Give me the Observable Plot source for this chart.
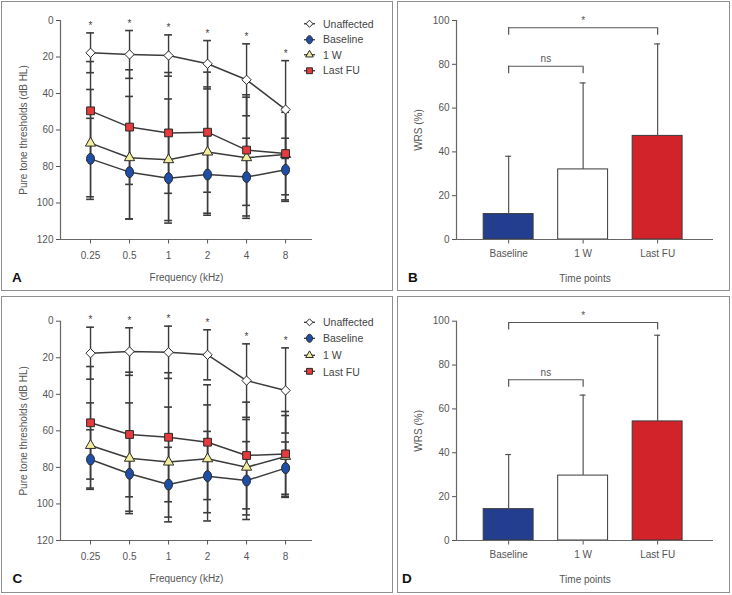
<!DOCTYPE html>
<html>
<head>
<meta charset="utf-8">
<script src="https://cdn.jsdelivr.net/npm/d3@7"></script>
<script src="https://cdn.jsdelivr.net/npm/@observablehq/plot@0.6"></script>
<style>
  body { margin: 0; background: #fff; font-family: "Liberation Sans", Arial, sans-serif; }
  #page { position: relative; width: 732px; height: 595px; overflow: hidden; background: #fff; }
  .box { position: absolute; border: 1.5px solid #8e8e8e; box-sizing: border-box; }
  .plot { position: absolute; }
  .legend { position: absolute; font-size: 10.5px; color: #444; }
  .legend .row { display: flex; align-items: center; white-space: nowrap; }
  .legend svg { flex: none; }
</style>
</head>
<body>
<div id="page"></div>
<script>
// ---------------- DATA ----------------
const freqLabels = ["0.25", "0.5", "1", "2", "4", "8"];
const seriesNames = ["Unaffected", "Baseline", "1 W", "Last FU"];

// Panel A: pure tone thresholds (dB HL), mean and SD
const aUnaffected   = [17.7, 18.6, 19.2, 23.7, 32.5, 48.8];
const aUnaffectedSD = [10.9, 13.1, 11.3, 12.7, 19.7, 26.8];
const aBaseline     = [75.8, 83.1, 86.4, 84.4, 85.8, 81.8];
const aBaselineSD   = [22.2, 25.6, 24.6, 21.2, 21.3, 17.3];
const a1W           = [67.2, 75.2, 76.3, 72.1, 75.2, 73.4];
const a1WSD         = [29.4, 33.6, 33.3, 34.6, 33.2, 24.9];
const aLastFU       = [49.5, 58.4, 61.6, 61.2, 71.0, 72.9];
const aLastFUSD     = [27.0, 31.4, 33.1, 32.9, 30.3, 22.6];

// Panel C: pure tone thresholds (dB HL), mean and SD
const cUnaffected   = [17.5, 16.6, 17.0, 18.4, 32.5, 37.9];
const cUnaffectedSD = [14.2, 13.0, 14.3, 13.7, 20.1, 23.3];
const cBaseline     = [75.7, 83.5, 89.4, 84.8, 87.2, 80.4];
const cBaselineSD   = [16.3, 20.5, 20.4, 24.5, 21.3, 14.3];
const c1W           = [68.0, 75.0, 77.1, 75.3, 79.9, 74.0];
const c1WSD         = [23.3, 30.3, 30.1, 29.5, 26.1, 22.4];
const cLastFU       = [55.6, 62.0, 63.5, 66.2, 73.5, 72.6];
const cLastFUSD     = [30.8, 34.1, 35.3, 31.4, 29.2, 23.2];

// Panels B and D: word recognition score (%)
const timePoints = ["Baseline", "1 W", "Last FU"];
const bWRS   = [11.6, 32.0, 47.3];
const bWRSSD = [26.4, 39.5, 42.0];
const dWRS   = [14.3, 29.6, 54.3];
const dWRSSD = [24.9, 36.7, 39.3];

// significance brackets
const bracketFrom   = [0, 0];
const bracketTo     = [1, 2];
const bracketLabels = ["ns", "*"];
const bBracketY     = [79.1, 96.7];
const dBracketY     = [73.3, 99.4];

// ---------------- STYLE ----------------
const ink = "#3b3b3b";
const axisColor = "#666";
const ellipse = {
  draw(ctx, size) {
    const r = Math.sqrt(size / Math.PI), rx = r * 0.85, ry = r * 1.15, k = 0.5523;
    ctx.moveTo(rx, 0);
    ctx.bezierCurveTo(rx, ry * k, rx * k, ry, 0, ry);
    ctx.bezierCurveTo(-rx * k, ry, -rx, ry * k, -rx, 0);
    ctx.bezierCurveTo(-rx, -ry * k, -rx * k, -ry, 0, -ry);
    ctx.bezierCurveTo(rx * k, -ry, rx, -ry * k, rx, 0);
    ctx.closePath();
  }
};
const seriesStyle = {
  "Unaffected": {symbol: d3.symbolDiamond2, fill: "#ffffff", r: 4.2},
  "Baseline":   {symbol: ellipse,           fill: "#1f4ea6", r: 4.7},
  "1 W":        {symbol: d3.symbolTriangle, fill: "#f2ee9c", r: 3.8},
  "Last FU":    {symbol: d3.symbolSquare,   fill: "#e63a3d", r: 4.4}
};
const barFills = ["#233e8e", "#ffffff", "#d2232a"];
const plotStyle = {fontFamily: "Liberation Sans, Arial, sans-serif", fontSize: "10px", color: "#555", background: "transparent", overflow: "visible"};

const page = document.getElementById("page");
function place(el, left, top) {
  el.classList.add("plot");
  el.style.left = left + "px";
  el.style.top = top + "px";
  page.appendChild(el);
}
function box(left, top, w, h) {
  const d = document.createElement("div");
  d.className = "box";
  Object.assign(d.style, {left: left + "px", top: top + "px", width: w + "px", height: h + "px"});
  page.appendChild(d);
}

box(1, 1, 392, 290);
box(397, 1, 333, 290);
box(1, 296, 392, 297);
box(397, 296, 333, 297);

// ---------------- PTA PANELS (A, C) ----------------
function ptaPanel(means, sds, {height, marginTop, marginBottom}) {
  const rows = seriesNames.flatMap((s, k) => means[k].map((m, i) => ({series: s, i, mean: m, sd: sds[k][i]})));
  const xDomain = [-0.77, 5.69];
  const yDomain = [0, 120];
  return Plot.plot({
    width: 395, height, marginLeft: 60, marginRight: 83, marginTop, marginBottom,
    x: {domain: xDomain},
    y: {domain: yDomain, reverse: true},
    style: plotStyle,
    marks: [
      Plot.ruleY([yDomain[1]], {stroke: axisColor, strokeWidth: 1.2}),
      Plot.ruleX([xDomain[0]], {stroke: axisColor, strokeWidth: 1.2}),
      Plot.axisY({ticks: d3.range(0, 121, 20), tickSize: 4, tickPadding: 3, label: "Pure tone thresholds (dB HL)",
        labelAnchor: "center", labelArrow: "none", labelOffset: 41}),
      Plot.axisX({ticks: d3.range(6), tickFormat: i => freqLabels[i], tickSize: 4.5, tickPadding: 8,
        label: "Frequency (kHz)", labelAnchor: "center", labelArrow: "none", labelOffset: 41}),
      Plot.ruleX(rows, {x: "i", y1: d => d.mean - d.sd, y2: d => d.mean + d.sd, stroke: ink, strokeWidth: 1.4}),
      Plot.ruleY(rows, {y: d => d.mean - d.sd, x1: d => d.i - 0.1, x2: d => d.i + 0.1, stroke: ink, strokeWidth: 1.6}),
      Plot.ruleY(rows, {y: d => d.mean + d.sd, x1: d => d.i - 0.1, x2: d => d.i + 0.1, stroke: ink, strokeWidth: 1.6}),
      Plot.line(rows, {x: "i", y: "mean", z: "series", stroke: ink, strokeWidth: 1.5}),
      ...seriesNames.map(s => Plot.dot(rows.filter(d => d.series === s), {
        x: "i", y: "mean", symbol: seriesStyle[s].symbol, fill: seriesStyle[s].fill,
        stroke: "#2a2a2a", strokeWidth: 1, r: seriesStyle[s].r
      })),
      Plot.text(rows.filter(d => d.series === "Unaffected"), {x: "i", y: d => d.mean - d.sd, text: () => "*",
        dy: -7, fontSize: 10, fill: "#444"})
    ]
  });
}

function legend(left, top, rowH) {
  const div = document.createElement("div");
  div.className = "legend";
  div.style.left = left + "px";
  div.style.top = top + "px";
  seriesNames.forEach(s => {
    const row = document.createElement("div");
    row.className = "row";
    row.style.height = rowH + "px";
    const svg = d3.create("svg").attr("width", 21).attr("height", rowH);
    const cy = rowH / 2;
    svg.append("line").attr("x1", 2).attr("x2", 13).attr("y1", cy).attr("y2", cy)
      .attr("stroke", "#333").attr("stroke-width", 1.3);
    const r = seriesStyle[s].r * 0.75;
    svg.append("path").attr("d", d3.symbol(seriesStyle[s].symbol, Math.PI * r * r)())
      .attr("transform", `translate(7.5,${cy})`).attr("fill", seriesStyle[s].fill)
      .attr("stroke", "#2a2a2a").attr("stroke-width", 1);
    row.appendChild(svg.node());
    const t = document.createElement("span");
    t.textContent = s;
    row.appendChild(t);
    div.appendChild(row);
  });
  page.appendChild(div);
}

place(ptaPanel([aUnaffected, aBaseline, a1W, aLastFU], [aUnaffectedSD, aBaselineSD, a1WSD, aLastFUSD],
  {height: 293, marginTop: 20, marginBottom: 54}), 0, 0);
place(ptaPanel([cUnaffected, cBaseline, c1W, cLastFU], [cUnaffectedSD, cBaselineSD, c1WSD, cLastFUSD],
  {height: 300, marginTop: 25.7, marginBottom: 55}), 0, 295);
legend(302, 16, 15.5);
legend(302, 313.5, 16.6);

// ---------------- WRS PANELS (B, D) ----------------
function wrsPanel(vals, sds, bracketY, {height, marginTop, marginBottom}) {
  const rows = timePoints.map((t, i) => ({t, i, v: vals[i], sd: sds[i]}));
  const brows = bracketLabels.map((l, k) => ({label: l, from: bracketFrom[k], to: bracketTo[k], y: bracketY[k]}));
  const xDomain = [-0.70, 2.75];
  return Plot.plot({
    width: 337, height, marginLeft: 61, marginRight: 19, marginTop, marginBottom,
    x: {domain: xDomain},
    y: {domain: [0, 100]},
    color: {type: "identity"},
    style: plotStyle,
    marks: [
      Plot.axisY({ticks: d3.range(0, 101, 20), tickSize: 4, tickPadding: 3, label: "WRS (%)",
        labelAnchor: "center", labelArrow: "none", labelOffset: 42}),
      Plot.axisX({ticks: [0, 1, 2], tickFormat: i => timePoints[i], tickSize: 4.5, tickPadding: 6,
        label: "Time points", labelAnchor: "center", labelArrow: "none", labelOffset: 42}),
      Plot.rectY(rows, {x1: d => d.i - 0.335, x2: d => d.i + 0.335, y1: 0, y2: "v",
        fill: d => barFills[d.i], stroke: "#3a3a3a", strokeWidth: 1}),
      Plot.ruleX(rows, {x: "i", y1: "v", y2: d => d.v + d.sd, stroke: "#555", strokeWidth: 1.2}),
      Plot.ruleY(rows, {y: d => d.v + d.sd, x1: d => d.i - 0.04, x2: d => d.i + 0.04, stroke: "#555", strokeWidth: 1.2}),
      Plot.ruleY([0], {stroke: axisColor, strokeWidth: 1.2}),
      Plot.ruleX([xDomain[0]], {stroke: axisColor, strokeWidth: 1.2}),
      Plot.ruleY(brows, {y: "y", x1: "from", x2: "to", stroke: "#555", strokeWidth: 1.2}),
      Plot.ruleX(brows, {x: "from", y1: d => d.y - 3.4, y2: "y", stroke: "#555", strokeWidth: 1.2}),
      Plot.ruleX(brows, {x: "to", y1: d => d.y - 3.4, y2: "y", stroke: "#555", strokeWidth: 1.2}),
      Plot.text(brows, {x: d => (d.from + d.to) / 2, y: "y", text: "label", lineAnchor: "bottom", dy: -4,
        fontSize: 10, fill: "#555"})
    ]
  });
}

place(wrsPanel(bWRS, bWRSSD, bBracketY, {height: 293, marginTop: 20, marginBottom: 54}), 395, 0);
place(wrsPanel(dWRS, dWRSSD, dBracketY, {height: 300, marginTop: 25.7, marginBottom: 55}), 395, 295);

// ---------------- PANEL LETTERS ----------------
const letters = d3.create("svg").attr("width", 732).attr("height", 595)
  .style("position", "absolute").style("left", "0px").style("top", "0px").style("pointer-events", "none");
[["A", 12, 282], ["B", 408, 282], ["C", 12.5, 583], ["D", 402, 583]].forEach(([t, x, y]) => {
  letters.append("text").attr("x", x).attr("y", y).text(t)
    .attr("font-family", "Liberation Sans, Arial, sans-serif").attr("font-weight", "bold")
    .attr("font-size", 13.5).attr("fill", "#111");
});
page.appendChild(letters.node());
</script>
</body>
</html>
